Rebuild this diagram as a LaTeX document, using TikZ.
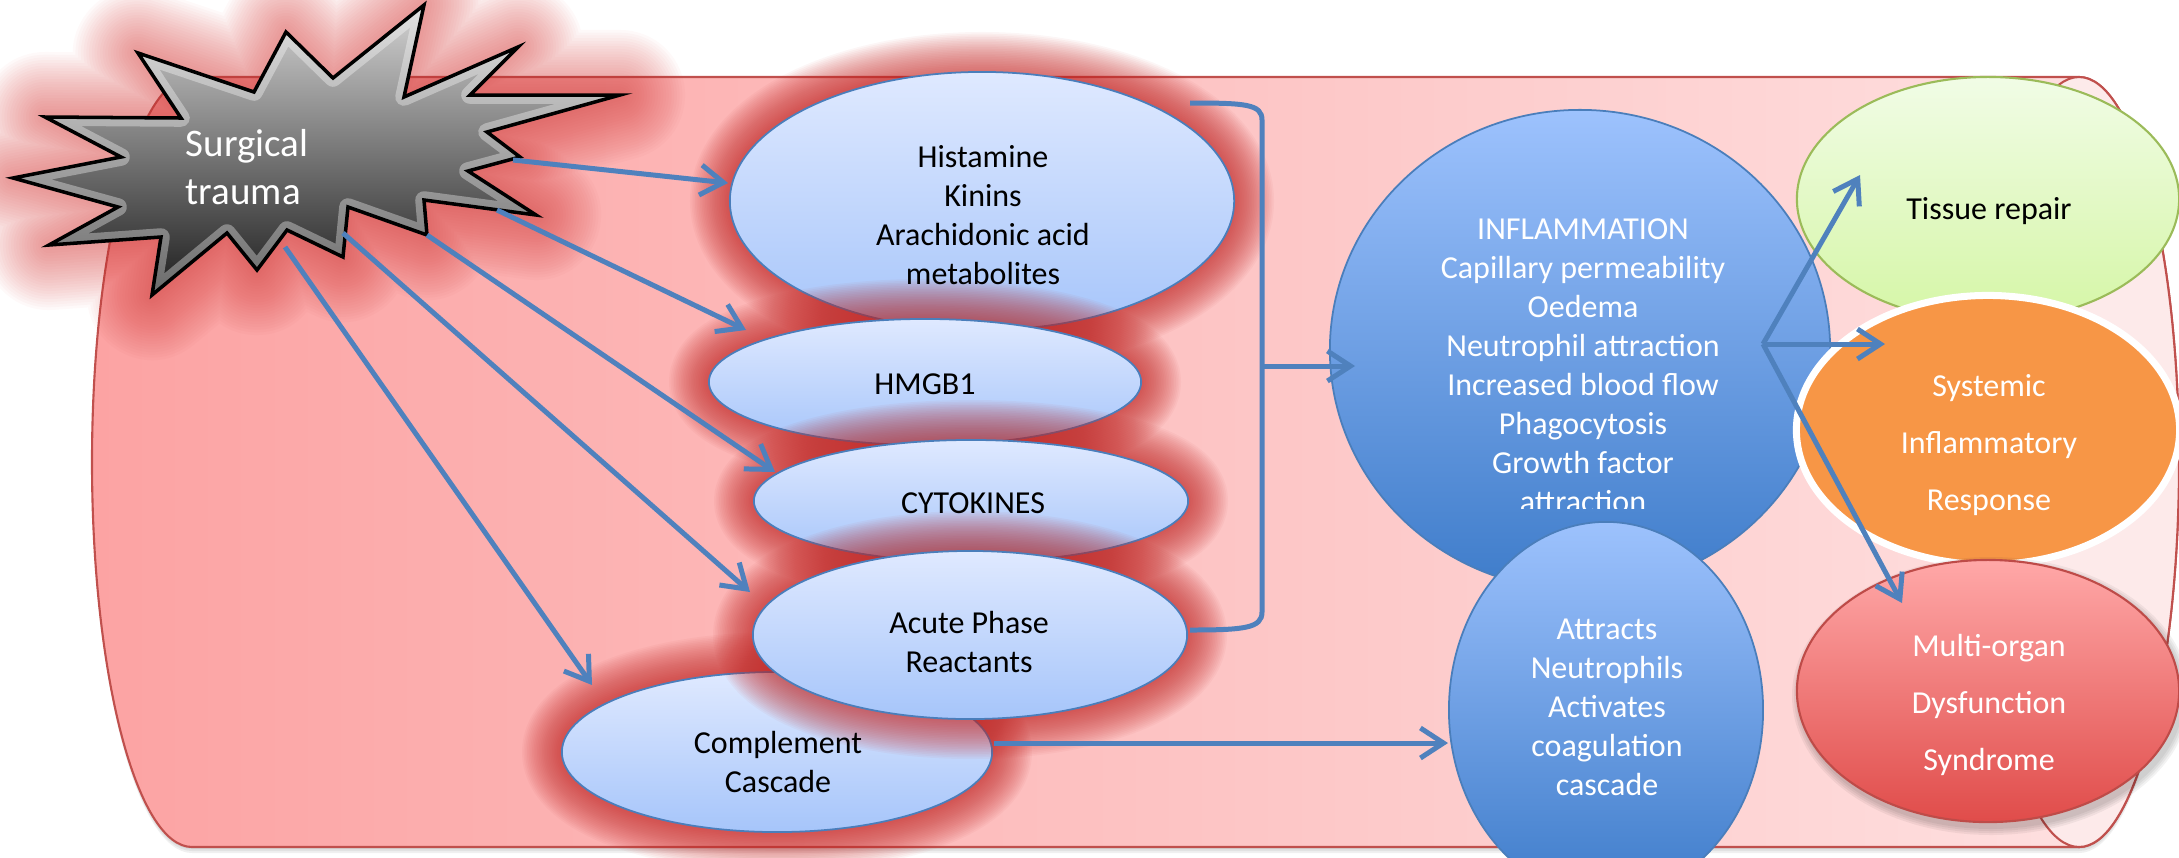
\documentclass[tikz,border=0pt]{standalone}
\usepackage{fontspec}
\setmainfont{Carlito}
\usetikzlibrary{arrows.meta,shapes.geometric}

\definecolor{linkblue}{RGB}{79,129,189}
\definecolor{ovaledge}{RGB}{74,126,187}
\definecolor{ovaltop}{RGB}{223,233,255}
\definecolor{ovalbot}{RGB}{166,197,250}
\definecolor{deeptop}{RGB}{157,194,253}
\definecolor{deepbot}{RGB}{62,124,202}
\definecolor{halored}{RGB}{197,42,40}
\definecolor{starhalo}{RGB}{214,64,62}
\definecolor{canedge}{RGB}{192,80,77}
\definecolor{canleft}{RGB}{252,163,163}
\definecolor{canright}{RGB}{254,226,226}
\definecolor{canend}{RGB}{253,234,234}
\definecolor{repairtop}{RGB}{241,252,230}
\definecolor{repairbot}{RGB}{213,246,166}
\definecolor{repairedge}{RGB}{155,187,89}
\definecolor{sirsfill}{RGB}{247,150,70}
\definecolor{modstop}{RGB}{255,168,168}
\definecolor{modsbot}{RGB}{224,76,74}
\definecolor{modsedge}{RGB}{190,75,72}
\definecolor{startop}{RGB}{212,212,212}
\definecolor{starmid}{RGB}{140,140,140}
\definecolor{starbot}{RGB}{28,28,28}

\newcommand\txtfont{\fontsize{9.1pt}{11.1pt}\selectfont}
\newcommand\widetxtfont{\fontsize{9.1pt}{16.2pt}\selectfont}
\newcommand\bigtxtfont{\fontsize{11.1pt}{13.66pt}\selectfont}

% soft halo: many stacked translucent strokes along a closed path
% #1 = colour, #2 = widest stroke (px), #3 = opacity of one stroke, #4 = path
\newcommand\haloaround[4]{%
  \foreach \k in {1,...,24}{%
    \draw[#1, opacity=#3, line width={#2*\k/24*0.28453pt}, line join=round] #4;}}

% outline of the starburst
\def\traumaoutline{(424,5) -- (404,97) -- (518,47) -- (470,95) -- (620,95) -- (487,132) -- (520,157) -- (468,171) -- (536,215) -- (424,200) -- (427,235) -- (348,207) -- (343,257) -- (287,230) -- (257,270) -- (227,233) -- (152,295) -- (161,237) -- (49,245) -- (118,207) -- (13,178) -- (121,157) -- (45,117) -- (181,118) -- (138,53) -- (254,92) -- (286,32) -- (333,78) -- cycle}

% horizontal can
\def\canbody{(192,77) -- (2079,77) arc[start angle=-90, end angle=90, x radius=100, y radius=385] -- (192,847) arc[start angle=90, end angle=270, x radius=100, y radius=385] -- cycle}

\begin{document}
\begin{tikzpicture}[x=0.01cm, y=-0.01cm,
  oval/.style={ellipse, inner sep=0pt, outer sep=0pt},
  paleoval/.style={oval, draw=ovaledge, line width=0.5pt, top color=ovaltop, bottom color=ovalbot},
  deepoval/.style={oval, draw=ovaledge, line width=0.5pt, top color=deeptop, bottom color=deepbot},
  blacktext/.style={inner sep=0pt, font=\txtfont, align=center, text=black},
  whitetext/.style={inner sep=0pt, font=\txtfont, align=center, text=white},
  whitewide/.style={inner sep=0pt, font=\widetxtfont, align=center, text=white},
  link/.style={draw=linkblue, line width=1.42pt, -{Straight Barb[length=0.23cm, width=0.3cm]}},
  bracket/.style={draw=linkblue, line width=1.42pt},
]
\useasboundingbox (0,0) rectangle (2179,857);
\clip (0,0) rectangle (2179,857);

% the can, with a faint shadow
\foreach \k in {1,2,3}{\fill[black, opacity=0.06, shift={(0,{\k*2})}] \canbody;}
\shadedraw[left color=canleft, right color=canright, draw=canedge, line width=0.6pt] \canbody;
\filldraw[fill=canend, draw=canedge, line width=0.6pt] (2079,462) ellipse [x radius=100, y radius=385];

% starburst
\haloaround{starhalo}{130}{0.03}{\traumaoutline}
\shade[top color=startop, middle color=starmid, bottom color=starbot] \traumaoutline;
\begin{scope}
  \clip \traumaoutline;
  \draw[white, opacity=0.35, line width=5pt, line join=round] \traumaoutline;
\end{scope}
\draw[black, line width=1pt, line join=miter] \traumaoutline;
\node[font=\bigtxtfont, text=white, align=left, anchor=north west, inner sep=0pt] (trauma) at (185,122) {\strut Surgical\\\strut trauma};

% mediator ovals with red halos
\haloaround{halored}{80}{0.044}{(777,752) ellipse [x radius=215, y radius=80]}
\node[paleoval, minimum width=4.30cm, minimum height=1.60cm] (complement) at (777,752) {};
\haloaround{halored}{80}{0.044}{(982,201) ellipse [x radius=252, y radius=129]}
\node[paleoval, minimum width=5.04cm, minimum height=2.58cm] (mediators) at (982,201) {};
\haloaround{halored}{80}{0.044}{(925,382) ellipse [x radius=216, y radius=63]}
\node[paleoval, minimum width=4.32cm, minimum height=1.26cm] (hmgb) at (925,382) {};
\haloaround{halored}{80}{0.044}{(971,501) ellipse [x radius=217, y radius=61]}
\node[paleoval, minimum width=4.34cm, minimum height=1.22cm] (cytokines) at (971,501) {};
\haloaround{halored}{80}{0.044}{(970,635) ellipse [x radius=217, y radius=84]}
\node[paleoval, minimum width=4.34cm, minimum height=1.68cm] (acute) at (970,635) {};

\node[blacktext] (mediators-t) at (983,218) {\strut Histamine\\\strut Kinins\\\strut Arachidonic acid\\\strut metabolites};
\node[blacktext] (hmgb-t) at (925,387) {\strut HMGB1};
\node[blacktext] (cytokines-t) at (973,506) {\strut CYTOKINES};
\node[blacktext] (acute-t) at (969,645) {\strut Acute Phase\\\strut Reactants};
\node[blacktext] (complement-t) at (778,765) {\strut Complement\\\strut Cascade};

% bracket gathering the mediators
\coordinate (brace-top) at (1190,103);
\coordinate (brace-bot) at (1190,630);
\coordinate (brace-mid) at (1262,366);
\draw[bracket] (brace-top) .. controls (1245,103) and (1262,104) .. (1262,120) -- (1262,612) .. controls (1262,628) and (1245,630) .. (brace-bot);

% inflammation and neutrophil circles
\node[deepoval, minimum width=5.00cm, minimum height=4.80cm] (inflammation) at (1580,350) {};
\begin{scope}
  \clip (1300,100) rectangle (1860,508);
  \node[whitetext] (inflammation-t) at (1583,368) {\strut INFLAMMATION\\\strut Capillary permeability\\\strut Oedema\\\strut Neutrophil attraction\\\strut Increased blood flow\\\strut Phagocytosis\\\strut Growth factor\\\strut attraction};
\end{scope}
\node[deepoval, minimum width=3.14cm, minimum height=3.76cm] (attracts) at (1606,710) {};
\node[whitetext] (attracts-t) at (1607,710) {\strut Attracts\\\strut Neutrophils\\\strut Activates\\\strut coagulation\\\strut cascade};

% outcomes
\node[oval, draw=repairedge, line width=0.6pt, top color=repairtop, bottom color=repairbot, minimum width=3.82cm, minimum height=2.44cm] (repair) at (1988,199) {};
\node[blacktext] (repair-t) at (1989,212) {\strut Tissue repair};
\node[oval, draw=white, line width=2pt, fill=sirsfill, minimum width=3.83cm, minimum height=2.69cm] (sirs) at (1988,430) {};
\node[whitewide] (sirs-t) at (1989,442) {\strut Systemic\\\strut Inflammatory\\\strut Response};
\foreach \k in {1,...,4}{\fill[black, opacity=0.05] (1991,696) ellipse [x radius={191+\k*2}, y radius={131+\k*2}];}
\node[oval, draw=modsedge, line width=0.6pt, top color=modstop, bottom color=modsbot, minimum width=3.82cm, minimum height=2.62cm] (mods) at (1988,691) {};
\node[whitewide] (mods-t) at (1989,702) {\strut Multi-organ\\\strut Dysfunction\\\strut Syndrome};

% connector end points
\coordinate (trauma-1) at (513,160);
\coordinate (trauma-2) at (497,210);
\coordinate (trauma-3) at (427,235);
\coordinate (trauma-4) at (343,233);
\coordinate (trauma-5) at (285,247);
\coordinate (to-mediators) at (728,183);
\coordinate (to-hmgb) at (746,330);
\coordinate (to-cytokines) at (775,472);
\coordinate (to-acute) at (750,592);
\coordinate (to-complement) at (592,685);
\coordinate (to-inflammation) at (1355,366);
\coordinate (complement-out) at (994,743);
\coordinate (to-attracts) at (1448,743);
\coordinate (fork) at (1763,344);
\coordinate (to-repair) at (1860,175);
\coordinate (to-sirs) at (1885,344);
\coordinate (to-mods) at (1902,603);

% connectors
\draw[link] (trauma-1) -- (to-mediators);
\draw[link] (trauma-2) -- (to-hmgb);
\draw[link] (trauma-3) -- (to-cytokines);
\draw[link] (trauma-4) -- (to-acute);
\draw[link] (trauma-5) -- (to-complement);
\draw[link] (brace-mid) -- (to-inflammation);
\draw[link] (complement-out) -- (to-attracts);
\draw[link] (fork) -- (to-repair);
\draw[link] (fork) -- (to-sirs);
\draw[link] (fork) -- (to-mods);
\end{tikzpicture}
\end{document}
